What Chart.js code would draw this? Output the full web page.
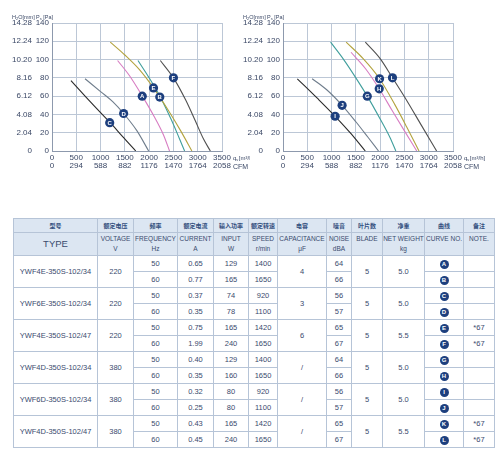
<!DOCTYPE html>
<html>
<head>
<meta charset="utf-8">
<script src="https://cdn.jsdelivr.net/npm/chart.js@4"></script>
<style>
body { margin: 0; background: #fff; width: 500px; height: 450px; overflow: hidden; position: relative; }
canvas { position: absolute; top: 0; }
#chartLeft { left: 0; }
#chartRight { left: 240px; }
#specTable {
    position: absolute; left: 13px; top: 218px; width: 481px;
    border-collapse: collapse; table-layout: fixed;
    font-family: "Liberation Sans", Arial, sans-serif; font-size: 7.5px; color: #3a4a6e;
}
#specTable td { border: 1px solid #b6c4d7; text-align: center; vertical-align: middle; padding: 0; height: 15px; }
#specTable tr.h1 td { background: #dce6f2; height: 13px; font-family: "Noto Sans CJK SC", sans-serif; font-size: 6px; font-weight: bold; color: #34507f; }
#specTable tr.h2 td { background: #dce6f2; height: 21px; vertical-align: top; font-size: 6.5px; line-height: 10px; padding-top: 1px; }
#specTable tr.h2 td.type { font-size: 9.5px; vertical-align: middle; padding-top: 0; }
.curve { display: inline-block; width: 9px; height: 9px; border-radius: 50%; background: #1d3f7e; color: #fff; font-size: 6px; font-weight: bold; line-height: 9px; text-align: center; }
</style>
</head>
<body>
<canvas id="chartLeft" width="250" height="180"></canvas>
<canvas id="chartRight" width="260" height="180"></canvas>
<table id="specTable"></table>

<script>
// ---- chart data (q in m3/h, Ps in Pa) ----
var flowTicks = [0, 500, 1000, 1500, 2000, 2500, 3000, 3500];
var cfmTicks = ['0', '294', '588', '882', '1176', '1470', '1764', '2058'];
var paTicks = [0, 20, 40, 60, 80, 100, 120, 140];
var mmTicks = ['0', '2.04', '4.08', '6.12', '8.16', '10.20', '12.24', '14.28'];

var curveC = [[390, 77], [700, 59], [1000, 42], [1200, 31], [1450, 16], [1725, 0]];
var curveD = [[680, 79], [1000, 65], [1250, 54], [1475, 41], [1750, 22], [1990, 0]];
var curveA = [[1350, 99], [1600, 82], [1860, 60], [2100, 38], [2300, 17], [2420, 0]];
var curveE = [[1200, 119], [1500, 105], [1800, 89], [2090, 69], [2400, 44], [2650, 22], [2880, 0]];
var curveB = [[1770, 99], [2000, 80], [2220, 60], [2450, 35], [2620, 14], [2730, 0]];
var curveF = [[2230, 99], [2500, 80], [2750, 56], [2950, 33], [3120, 13], [3260, 0]];

var curveI = [[295, 79], [700, 58], [1073, 38], [1400, 19], [1694, 0]];
var curveJ = [[600, 79], [900, 67], [1217, 50], [1500, 32], [1750, 15], [1967, 0]];
var curveG = [[980, 119], [1250, 100], [1500, 80], [1735, 60], [2000, 35], [2200, 15], [2323, 0]];
var curveH = [[1400, 108], [1700, 90], [1981, 68], [2250, 44], [2500, 22], [2754, 0]];
var curveK = [[1300, 119], [1650, 101], [1988, 79], [2300, 51], [2550, 26], [2800, 0]];
var curveL = [[1695, 119], [2000, 101], [2254, 80], [2550, 55], [2850, 28], [3163, 0]];

// curve letter markers: [letter, q, Ps]
var markersLeft = [['C', 1188, 31], ['D', 1475, 41], ['A', 1858, 60], ['E', 2090, 69], ['B', 2219, 59], ['F', 2500, 80]];
var markersRight = [['I', 1073, 38], ['J', 1217, 50], ['G', 1735, 60], ['H', 1981, 68], ['K', 1988, 79], ['L', 2254, 80]];

// ---- table data ----
var types = ['YWF4E-350S-102/34', 'YWF6E-350S-102/34', 'YWF4E-350S-102/47', 'YWF4D-350S-102/34', 'YWF6D-350S-102/34', 'YWF4D-350S-102/47'];
var voltages = ['220', '220', '220', '380', '380', '380'];
var freqs = ['50', '60'];
var currents = ['0.65', '0.77', '0.37', '0.35', '0.75', '1.99', '0.40', '0.35', '0.32', '0.25', '0.43', '0.45'];
var inputs = ['129', '165', '74', '78', '165', '240', '129', '160', '80', '80', '165', '240'];
var speeds = ['1400', '1650', '920', '1100', '1420', '1650', '1400', '1650', '920', '1100', '1420', '1650'];
var caps = ['4', '3', '6', '/', '/', '/'];
var noises = ['64', '66', '56', '57', '65', '67', '64', '66', '56', '57', '65', '67'];
var blades = ['5', '5', '5', '5', '5', '5'];
var weights = ['5.0', '5.0', '5.5', '5.0', '5.0', '5.5'];
var curveNos = ['A', 'B', 'C', 'D', 'E', 'F', 'G', 'H', 'I', 'J', 'K', 'L'];
var notes = ['', '', '', '', '*67', '*67', '', '', '', '', '*67', '*67'];

var headCn = ['型号', '额定电压', '频率', '额定电流', '输入功率', '额定转速', '电容', '噪音', '叶片数', '净重', '曲线', '备注'];
var headEn = ['TYPE', 'VOLTAGE<br>V', 'FREQUENCY<br>Hz', 'CURRENT<br>A', 'INPUT<br>W', 'SPEED<br>r/min', 'CAPACITANCE<br>μF', 'NOISE<br>dBA', 'BLADE', 'NET WEIGHT<br>kg', 'CURVE NO.', 'NOTE.'];
var colWidths = [84, 36, 44, 36, 35, 29, 49, 25, 31, 42, 39, 31];

var textColor = '#3b4866';
var gridColor = '#bcc7d6';
var navy = '#1d3f7e';

function toPoints(arr) {
    var pts = [];
    for (var i = 0; i < arr.length; i++) {
        pts.push({ x: arr[i][0], y: arr[i][1] });
    }
    return pts;
}

function lineSet(arr, color) {
    return {
        data: toPoints(arr),
        borderColor: color,
        borderWidth: 1.1,
        pointRadius: 0,
        fill: false,
        cubicInterpolationMode: 'monotone'
    };
}

// draws the letter circles and the small axis captions
var decorPlugin = {
    id: 'decor',
    afterDatasetsDraw: function (chart) {
        var ctx = chart.ctx;
        var xs = chart.scales.x, ys = chart.scales.y;
        var marks = chart.options.plugins.decor.markers;
        ctx.save();
        for (var i = 0; i < marks.length; i++) {
            var px = xs.getPixelForValue(marks[i][1]);
            var py = ys.getPixelForValue(marks[i][2]);
            ctx.beginPath();
            ctx.arc(px, py, 4.6, 0, Math.PI * 2);
            ctx.fillStyle = navy;
            ctx.fill();
            ctx.fillStyle = '#fff';
            ctx.font = 'bold 6px "Liberation Sans", Arial';
            ctx.textAlign = 'center';
            ctx.textBaseline = 'middle';
            ctx.fillText(marks[i][0], px, py + 0.5);
        }

        ctx.fillStyle = textColor;
        ctx.textBaseline = 'alphabetic';
        ctx.textAlign = 'left';
        var y2 = chart.scales.y2;
        var top = ys.top;
        // H2O[mm]
        var x0 = y2.left + 3;
        ctx.font = '5.5px "Liberation Sans", Arial';
        ctx.fillText('H', x0, top - 4);
        var w = ctx.measureText('H').width;
        ctx.font = '4px "Liberation Sans", Arial';
        ctx.fillText('2', x0 + w, top - 3);
        w += ctx.measureText('2').width;
        ctx.font = '5.5px "Liberation Sans", Arial';
        ctx.fillText('O[mm]', x0 + w, top - 4);
        // Ps[Pa]
        x0 = ys.left + 1;
        ctx.fillText('P', x0, top - 4);
        w = ctx.measureText('P').width;
        ctx.font = '4px "Liberation Sans", Arial';
        ctx.fillText('s', x0 + w, top - 3);
        w += ctx.measureText('s').width;
        ctx.font = '5.5px "Liberation Sans", Arial';
        ctx.fillText(' [Pa]', x0 + w, top - 4);
        // qv[m3/h] and CFM
        var right = xs.right + 11;
        var row1 = xs.top + 9;
        var row2 = chart.scales.x2.top + 8;
        ctx.font = '6px "Liberation Sans", Arial';
        ctx.fillText('q', right, row1);
        w = ctx.measureText('q').width;
        ctx.font = '4px "Liberation Sans", Arial';
        ctx.fillText('v', right + w, row1 + 1);
        w += ctx.measureText('v').width;
        ctx.font = '6px "Liberation Sans", Arial';
        ctx.fillText('[m³/h]', right + w + 0.5, row1);
        ctx.font = '7px "Liberation Sans", Arial';
        ctx.fillText('CFM', right, row2);
        ctx.restore();
    }
};

function makeChart(canvasId, datasets, markers, padLeft, padRight) {
    var tickFont = { family: '"Liberation Sans", Arial', size: 8 };
    var ctx = document.getElementById(canvasId).getContext('2d');
    return new Chart(ctx, {
        type: 'line',
        data: { datasets: datasets },
        options: {
            responsive: false,
            animation: false,
            layout: { padding: { left: padLeft, right: padRight, top: 23, bottom: 9 } },
            plugins: {
                legend: { display: false },
                tooltip: { enabled: false },
                decor: { markers: markers }
            },
            scales: {
                x: {
                    type: 'linear', position: 'bottom', weight: 0,
                    min: flowTicks[0], max: flowTicks[flowTicks.length - 1],
                    afterBuildTicks: function (s) { s.ticks = flowTicks.map(function (v) { return { value: v }; }); },
                    ticks: {
                        font: tickFont, color: textColor, padding: 2, maxRotation: 0, autoSkip: false,
                        callback: function (v) { return String(v); }
                    },
                    grid: { color: gridColor, drawTicks: false },
                    border: { color: '#8d99ad' },
                    afterFit: function (s) { s.height = 10; }
                },
                x2: {
                    type: 'linear', position: 'bottom', weight: 1,
                    min: flowTicks[0], max: flowTicks[flowTicks.length - 1],
                    afterBuildTicks: function (s) { s.ticks = flowTicks.map(function (v) { return { value: v }; }); },
                    ticks: {
                        font: tickFont, color: textColor, padding: 0, maxRotation: 0, autoSkip: false,
                        callback: function (v, i) { return cfmTicks[i]; }
                    },
                    grid: { display: false, drawTicks: false },
                    border: { display: false },
                    afterFit: function (s) { s.height = 10; }
                },
                y: {
                    type: 'linear', position: 'left', weight: 0,
                    min: paTicks[0], max: paTicks[paTicks.length - 1],
                    afterBuildTicks: function (s) { s.ticks = paTicks.map(function (v) { return { value: v }; }); },
                    ticks: {
                        font: tickFont, color: textColor, padding: 3, autoSkip: false,
                        callback: function (v) { return String(v); }
                    },
                    grid: { color: gridColor, drawTicks: false },
                    border: { color: '#8d99ad' },
                    afterFit: function (s) { s.width = 17; }
                },
                y2: {
                    type: 'linear', position: 'left', weight: 1,
                    min: paTicks[0], max: paTicks[paTicks.length - 1],
                    afterBuildTicks: function (s) { s.ticks = paTicks.map(function (v) { return { value: v }; }); },
                    ticks: {
                        font: tickFont, color: textColor, padding: 3, autoSkip: false,
                        callback: function (v, i) { return mmTicks[i]; }
                    },
                    grid: { display: false, drawTicks: false },
                    border: { display: false },
                    afterFit: function (s) { s.width = 26; }
                }
            }
        },
        plugins: [decorPlugin]
    });
}

makeChart('chartLeft', [
    lineSet(curveC, '#2b2b2b'),
    lineSet(curveD, '#6f7d8c'),
    lineSet(curveA, '#d77cc2'),
    lineSet(curveE, '#b3a33f'),
    lineSet(curveB, '#3f9e9c'),
    lineSet(curveF, '#505050')
], markersLeft, 9, 28);

makeChart('chartRight', [
    lineSet(curveI, '#2b2b2b'),
    lineSet(curveJ, '#6f7d8c'),
    lineSet(curveG, '#3f9e9c'),
    lineSet(curveH, '#d77cc2'),
    lineSet(curveK, '#b3a33f'),
    lineSet(curveL, '#505050')
], markersRight, 0, 47);

// ---- build the spec table ----
function buildTable() {
    var html = '<colgroup>';
    for (var c = 0; c < colWidths.length; c++) {
        html += '<col style="width:' + colWidths[c] + 'px">';
    }
    html += '</colgroup>';
    html += '<tr class="h1">';
    for (var i = 0; i < headCn.length; i++) html += '<td>' + headCn[i] + '</td>';
    html += '</tr><tr class="h2">';
    for (var j = 0; j < headEn.length; j++) {
        html += '<td' + (j == 0 ? ' class="type"' : '') + '>' + headEn[j] + '</td>';
    }
    html += '</tr>';

    for (var m = 0; m < types.length; m++) {
        for (var k = 0; k < 2; k++) {
            var r = m * 2 + k;
            html += '<tr>';
            if (k == 0) {
                html += '<td rowspan="2">' + types[m] + '</td>';
                html += '<td rowspan="2">' + voltages[m] + '</td>';
            }
            html += '<td>' + freqs[k] + '</td>';
            html += '<td>' + currents[r] + '</td>';
            html += '<td>' + inputs[r] + '</td>';
            html += '<td>' + speeds[r] + '</td>';
            if (k == 0) html += '<td rowspan="2">' + caps[m] + '</td>';
            html += '<td>' + noises[r] + '</td>';
            if (k == 0) {
                html += '<td rowspan="2">' + blades[m] + '</td>';
                html += '<td rowspan="2">' + weights[m] + '</td>';
            }
            html += '<td><span class="curve">' + curveNos[r] + '</span></td>';
            html += '<td>' + notes[r] + '</td>';
            html += '</tr>';
        }
    }
    document.getElementById('specTable').innerHTML = html;
}

buildTable();
</script>
</body>
</html>
